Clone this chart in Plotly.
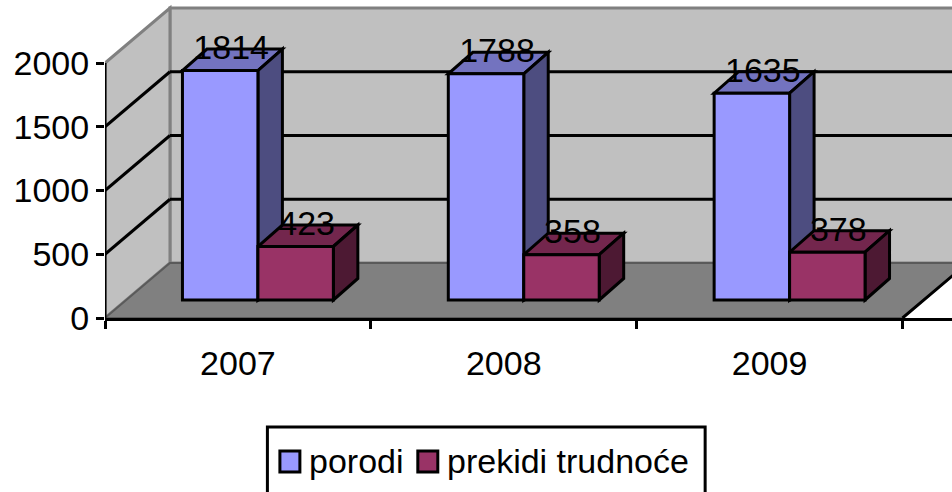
import plotly.graph_objects as go

categories = ["2007", "2008", "2009"]
porodi = [1814, 1788, 1635]
prekidi = [423, 358, 378]
y_ticks = [0, 500, 1000, 1500, 2000]
series_names = ["porodi", "prekidi trudnoće"]

W, H = 952, 492
ML, MB = 104.5, 174    # plot left edge, space below the x axis
CAT_PX = 266.0         # pixels per category
Y_PX = 0.1275          # pixels per value unit
BAR_SCALE = 0.992
FS = 34

PLOT_W, PLOT_H = W - ML, H - MB
X_MAX, Y_MAX = PLOT_W / CAT_PX, PLOT_H / Y_PX


def ux(px):
    return px / CAT_PX


def uy(px):
    return px / Y_PX


# depth projections (pixels -> data units)
WALL_DX, WALL_DY = ux(65), uy(55)
BAR_OFF_X, BAR_OFF_Y = ux(20), uy(18)
DEPTH_X, DEPTH_Y = ux(24.5), uy(21.5)
BAR_W = ux(75.5)

COL_A, COL_A_TOP, COL_A_SIDE = "#9999FF", "#7373BF", "#4D4D80"
COL_B, COL_B_TOP, COL_B_SIDE = "#993366", "#73264D", "#4D1933"
WALL, FLOOR, EDGE = "#C0C0C0", "#808080", "#808080"


def poly(points, fill, line="black", width=3, layer="below"):
    path = "M" + "L".join(f"{x:.4f},{y:.4f}" for x, y in points) + "Z"
    return dict(type="path", path=path, xref="x", yref="y", fillcolor=fill,
                line=dict(color=line, width=width), layer=layer)


def seg(x0, y0, x1, y1, color="black", width=3):
    return dict(type="line", xref="x", yref="y", x0=x0, y0=y0, x1=x1, y1=y1,
                line=dict(color=color, width=width), layer="below")


def px_x(p):
    return (p - ML) / PLOT_W


def px_y(p):
    return (H - MB - p) / PLOT_H


top_v, far = y_ticks[-1], X_MAX + 1
shapes = [
    # back wall and side wall
    poly([(WALL_DX, WALL_DY), (far, WALL_DY), (far, top_v + WALL_DY), (WALL_DX, top_v + WALL_DY)], WALL, EDGE),
    poly([(0, 0), (WALL_DX, WALL_DY), (WALL_DX, top_v + WALL_DY), (0, top_v)], WALL, EDGE),
    # floor
    poly([(0, 0), (3, 0), (3 + WALL_DX, WALL_DY), (WALL_DX, WALL_DY)], FLOOR, "#5a5a5a", 2),
    seg(3, 0, 3 + WALL_DX, WALL_DY),
    # value axis line, only as far as the top tick
    dict(type="line", xref="x", yref="y", x0=0, x1=0, y0=0, y1=top_v,
         line=dict(color="black", width=3), layer="above"),
]
for v in y_ticks[1:-1]:
    shapes.append(seg(0, v, WALL_DX, v + WALL_DY))
    shapes.append(seg(WALL_DX, v + WALL_DY, far, v + WALL_DY))


def box_faces(x0, v, top_col, side_col):
    x1 = x0 + BAR_W
    b = BAR_OFF_Y
    t = b + v * BAR_SCALE
    return [
        poly([(x0, t), (x1, t), (x1 + DEPTH_X, t + DEPTH_Y), (x0 + DEPTH_X, t + DEPTH_Y)], top_col),
        poly([(x1, b), (x1 + DEPTH_X, b + DEPTH_Y), (x1 + DEPTH_X, t + DEPTH_Y), (x1, t)], side_col),
    ]


centers = [i + 0.5 + BAR_OFF_X for i in range(len(categories))]
for i, c in enumerate(centers):
    shapes += box_faces(c - BAR_W, porodi[i], COL_A_TOP, COL_A_SIDE)
    shapes += box_faces(c, prekidi[i], COL_B_TOP, COL_B_SIDE)

fig = go.Figure()
for name, vals, col, off in [(series_names[0], porodi, COL_A, -BAR_W / 2),
                             (series_names[1], prekidi, COL_B, BAR_W / 2)]:
    xs = [c + off for c in centers]
    fig.add_trace(go.Bar(name=name, x=xs, y=[v * BAR_SCALE for v in vals],
                         base=[BAR_OFF_Y] * len(vals), width=BAR_W,
                         marker=dict(color=col, line=dict(color="black", width=3)),
                         showlegend=False))
    fig.add_trace(go.Scatter(x=[x + ux(11) for x in xs],
                             y=[BAR_OFF_Y + v * BAR_SCALE + uy(20) for v in vals],
                             mode="text", text=[str(v) for v in vals],
                             textposition="middle center",
                             textfont=dict(size=FS, color="black"), showlegend=False))

# legend box, swatches and labels
shapes.append(dict(type="rect", xref="paper", yref="paper", x0=px_x(267), x1=px_x(705),
                   y0=px_y(500), y1=px_y(427), fillcolor="white",
                   line=dict(color="black", width=3), layer="above"))
annotations = []
for (s0, s1, tx), name, col in zip([(279.5, 299.5, 307), (417.5, 437.5, 445)], series_names, [COL_A, COL_B]):
    shapes.append(dict(type="rect", xref="paper", yref="paper", x0=px_x(s0), x1=px_x(s1),
                       y0=px_y(472), y1=px_y(451), fillcolor=col,
                       line=dict(color="black", width=3), layer="above"))
    annotations.append(dict(xref="paper", yref="paper", x=px_x(tx), y=px_y(461), text=name,
                            xanchor="left", yanchor="middle", showarrow=False,
                            font=dict(size=FS, color="black")))

fig.update_layout(
    width=W, height=H, autosize=False,
    margin=dict(l=ML, r=0, t=0, b=MB, pad=0),
    paper_bgcolor="white", plot_bgcolor="white",
    font=dict(family="Liberation Sans, Arial, sans-serif", size=FS, color="black"),
    barmode="overlay", showlegend=False, shapes=shapes, annotations=annotations,
    xaxis=dict(range=[0, X_MAX], tickvals=[i + 0.5 for i in range(len(categories))],
               ticktext=categories, ticks="", showgrid=False, zeroline=False,
               showline=True, linecolor="black", linewidth=3, ticklabelstandoff=13,
               tickfont=dict(size=FS),
               minor=dict(tickvals=list(range(len(categories) + 1)), ticks="outside",
                          ticklen=8, tickwidth=3, tickcolor="black", showgrid=False),
               fixedrange=True),
    yaxis=dict(range=[0, Y_MAX], tickvals=y_ticks, ticks="outside", ticklen=8, tickwidth=3,
               tickcolor="black", showgrid=False, zeroline=False, showline=False,
               tickfont=dict(size=FS), fixedrange=True),
)

fig.write_html("out.html", config=dict(displayModeBar=False),
               post_script="document.body.style.margin='0';document.body.style.overflow='hidden';")
